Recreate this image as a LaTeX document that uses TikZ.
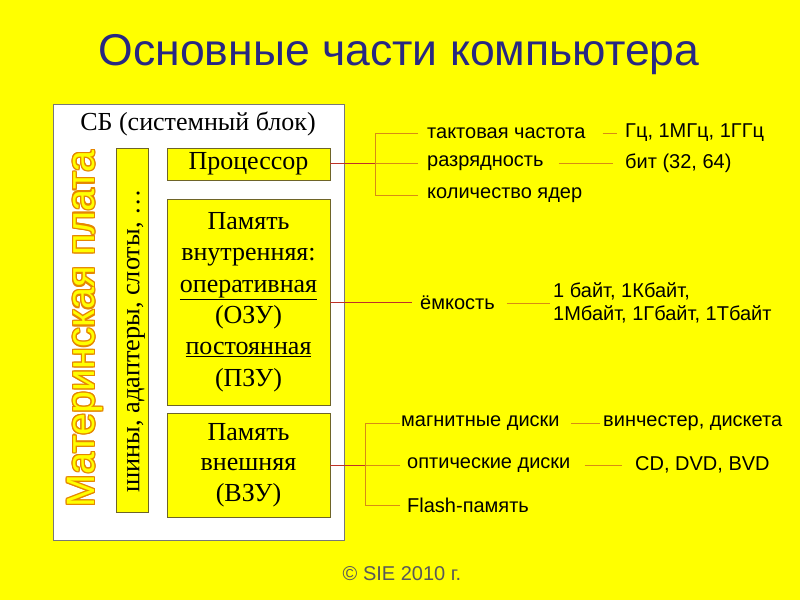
\documentclass[tikz,border=0pt]{standalone}
\usepackage{fontspec}
\setmainfont{Liberation Serif}
\setsansfont{Liberation Sans}
\usetikzlibrary{calc}
\definecolor{bgyellow}{RGB}{255,255,0}
\definecolor{titleblue}{RGB}{40,40,130}
\definecolor{brk}{RGB}{215,140,20}
\definecolor{leadred}{RGB}{190,50,40}
\definecolor{boxline}{RGB}{110,100,40}
\definecolor{mbout}{RGB}{230,135,0}
\definecolor{sbline}{RGB}{120,120,120}
\begin{document}
\begin{tikzpicture}[x=1pt,y=-1pt,
  box/.style={draw=boxline, fill=bgyellow, line width=0.8pt, inner sep=0pt},
  serif26/.style={font=\rmfamily\fontsize{26}{31.3}\selectfont},
  lbl/.style={font=\sffamily\fontsize{20}{23}\selectfont, anchor=west, inner sep=0pt, text=black},
  brkline/.style={draw=brk, line width=1pt},
  lead/.style={draw=leadred, line width=0.8pt},
  mbtext/.style={rotate=90, font=\sffamily\fontsize{39.5}{42}\selectfont, inner sep=0pt}]
\useasboundingbox[fill=bgyellow] (0,0) rectangle (800,600);

\node[font=\sffamily\fontsize{44.5}{50}\selectfont, text=titleblue] (title) at (399,55) {Основные части компьютера};

\node[draw=sbline, fill=white, line width=0.8pt, minimum width=291, minimum height=436, inner sep=0pt] (sb) at (198.5,322) {};
\node[serif26] (sbt) at (198,124) {СБ (системный блок)};

\foreach \a in {0,30,...,330}
  \node[mbtext, text=mbout] at ($(85,329)+(\a:1.3)$) {Материнская плата};
\node[mbtext, text=bgyellow] (mb) at (85,329) {Материнская плата};

\node[box, minimum width=32, minimum height=364] (bus) at (132.5,330.5) {};
\node[rotate=90, inner sep=0pt, font=\rmfamily\fontsize{26.3}{28}\selectfont] (bust) at (136,341) {шины, адаптеры, слоты, …};

\node[box, serif26, minimum width=163, minimum height=32] (cpu) at (248.5,164) {Процессор};
\node[box, serif26, align=center, minimum width=163, minimum height=206] (ram) at (248.5,302) {Память\\внутренняя:\\\underline{оперативная}\\(ОЗУ)\\\underline{постоянная}\\(ПЗУ)};
\node[box, serif26, align=center, minimum width=163, minimum height=104, font=\rmfamily\fontsize{26}{30.5}\selectfont] (ext) at (248.5,465) {Память\\внешняя\\(ВЗУ)};

% right labels
\node[lbl] (tf) at (427,133) {тактовая частота};
\node[lbl] (rz) at (427,163) {разрядность};
\node[lbl] (kol) at (427,195) {количество ядер};
\node[lbl] (hz) at (625,133) {Гц, 1МГц, 1ГГц};
\node[lbl] (bit) at (625,163) {бит (32, 64)};
\node[lbl] (em) at (420,303) {ёмкость};
\node[lbl, align=left] (bytes) at (553,303) {1 байт, 1Кбайт,\\1Мбайт, 1Гбайт, 1Тбайт};
\node[lbl] (mag) at (401,423) {магнитные диски};
\node[lbl] (vin) at (603,423) {винчестер, дискета};
\node[lbl] (opt) at (407,465) {оптические диски};
\node[lbl] (cd) at (635,465) {CD, DVD, BVD};
\node[lbl] (fl) at (407,505) {Flash-память};

\node[font=\sffamily\fontsize{20}{24}\selectfont, text=black!65] (copy) at (402,574) {© SIE 2010 г.};

% processor connectors
\coordinate (pj) at (375,163);
\draw[lead] (cpu.east |- pj) -- (pj);
\draw[brkline] ([xshift=-9]tf.west) -| (pj);
\draw[brkline] ([xshift=-9]kol.west) -| (pj);
\draw[brkline] ([xshift=-9]rz.west) -- (pj);
\draw[brkline] ([xshift=17]tf.east) -- ([xshift=-8]hz.west);
\draw[brkline] ([xshift=15]rz.east) -- ([xshift=-12]bit.west);

% internal memory
\draw[lead] (ram.east) -- ([xshift=-8]em.west |- ram.east);
\draw[brkline] ([xshift=12]em.east) -- ([xshift=-3]bytes.west |- em.east);

% external memory
\coordinate (ej) at (365,465);
\draw[lead] (ext.east) -- (ej);
\draw[brkline] ([xshift=-1]mag.west) -| (ej);
\draw[brkline] ([xshift=-7]fl.west) -| (ej);
\draw[brkline] ([xshift=-7]opt.west) -- (ej);
\draw[brkline] ([xshift=11]mag.east) -- ([xshift=-3]vin.west);
\draw[brkline] ([xshift=14]opt.east) -- ([xshift=-13]cd.west);
\end{tikzpicture}
\end{document}
